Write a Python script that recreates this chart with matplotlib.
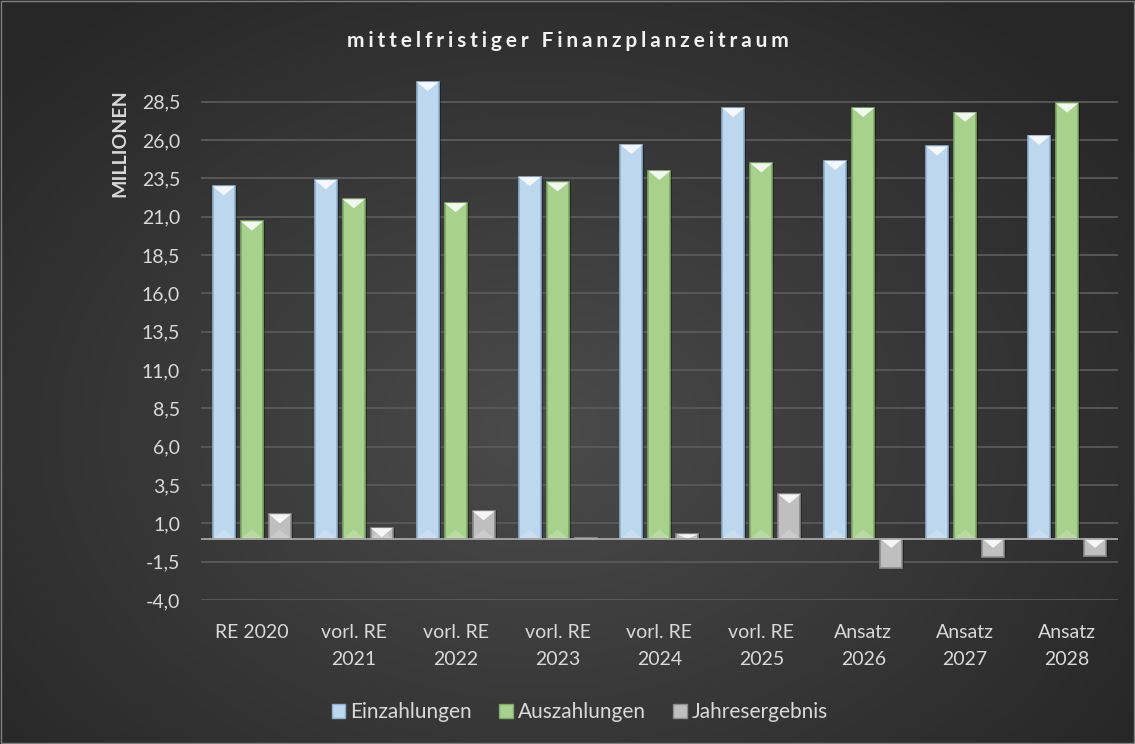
import numpy as np
import matplotlib.pyplot as plt
from matplotlib.patches import Patch, Rectangle

kategorien = ["RE 2020", "vorl. RE\n2021", "vorl. RE\n2022", "vorl. RE\n2023", "vorl. RE\n2024",
              "vorl. RE\n2025", "Ansatz\n2026", "Ansatz\n2027", "Ansatz\n2028"]
einzahlungen = [23.0, 23.4, 29.8, 23.6, 25.7, 28.1, 24.65, 25.6, 26.3]
auszahlungen = [20.7, 22.15, 21.9, 23.25, 24.0, 24.5, 28.1, 27.8, 28.4]
jahresergebnis = [1.6, 0.7, 1.8, 0.05, 0.3, 2.9, -1.9, -1.2, -1.15]
yticks = [-4.0, -1.5, 1.0, 3.5, 6.0, 8.5, 11.0, 13.5, 16.0, 18.5, 21.0, 23.5, 26.0, 28.5]

plt.rcParams['font.family'] = ['Lato', 'DejaVu Sans']
txt = "#d9d9d9"
fs = 14

fig = plt.figure(figsize=(11.35, 7.44), dpi=100)

# radial background
bg = fig.add_axes([0, 0, 1, 1], zorder=0)
yy, xx = np.mgrid[0:744, 0:1135]
r = np.sqrt(((xx - 540) / 720.0) ** 2 + ((yy - 430) / 540.0) ** 2)
r = np.clip(r, 0, 1)
c_in = np.array([0x4b, 0x4b, 0x4b]) / 255
c_out = np.array([0x27, 0x27, 0x27]) / 255
img = c_in[None, None, :] * (1 - r[..., None]) + c_out[None, None, :] * r[..., None]
bg.imshow(img, aspect="auto", extent=[0, 1, 0, 1], origin="upper")
bg.add_patch(Rectangle((0.001, 0.001), 0.998, 0.997, fill=False, ec="#7f7f7f", lw=1))
bg.set_xlim(0, 1)
bg.set_ylim(0, 1)
bg.axis("off")

ax = fig.add_axes([0.177, 0.1935, 0.808, 0.7005], zorder=1)
ax.patch.set_alpha(0)

x = np.arange(len(kategorien))
w = 0.216
off = 0.275
serien = [
    (einzahlungen, "Einzahlungen", "#bdd7ee", "#8fb0cf"),
    (auszahlungen, "Auszahlungen", "#a9d18e", "#7fa866"),
    (jahresergebnis, "Jahresergebnis", "#bfbfbf", "#8c8c8c"),
]
tri_h = 0.6
for i, (vals, name, col, dark) in enumerate(serien):
    xs = x + (i - 1) * off
    # shadow
    ax.bar(xs + 0.02, vals, w, color="black", alpha=0.35, zorder=2)
    ax.bar(xs, vals, w, color=col, edgecolor=dark, linewidth=1.2, zorder=3)
    for xi, v in zip(xs, vals):
        top = max(v, 0)
        h = min(tri_h, abs(v))
        ax.fill([xi - w / 2, xi + w / 2, xi], [top, top, top - h], color="white", alpha=0.85, lw=0, zorder=4)
        if v > 0:
            hb = min(tri_h, v)
            ax.fill([xi - w / 2, xi + w / 2, xi], [0, 0, hb], color="white", alpha=0.2, lw=0, zorder=4)

ax.set_xlim(-0.5, len(kategorien) - 0.5)
ax.set_ylim(-4, 30)
ax.set_yticks(yticks)
ax.set_yticklabels([f"{t:.1f}".replace(".", ",") for t in yticks])
ax.set_xticks(x)
ax.set_xticklabels(kategorien, linespacing=1.75)
ax.tick_params(axis="both", length=0, colors=txt, labelsize=fs)
ax.tick_params(axis="x", pad=17)
ax.tick_params(axis="y", pad=15)
ax.grid(axis="y", color="#5a5a5a", lw=1.3, zorder=1)
ax.set_axisbelow(True)
ax.axhline(0, color="#a6a6a6", lw=1.3, zorder=5)
for s in ax.spines.values():
    s.set_visible(False)

titel = "mittelfristiger Finanzplanzeitraum"
fig.text(0.5, 0.945, "\u2009\u200a".join(titel), ha="center", va="center",
         color="#f2f2f2", fontsize=15, fontweight="bold", zorder=3)
fig.text(0.106, 0.807, "MILLIONEN", rotation=90, ha="center", va="center",
         color=txt, fontsize=fs, fontweight="bold", zorder=3)

handles = [Patch(facecolor=c, edgecolor=d, label=n) for _, n, c, d in serien]
fig.legend(handles=handles, loc="center", bbox_to_anchor=(0.511, 0.043), ncol=3, frameon=False,
           fontsize=15, labelcolor=txt, handlelength=0.65, handleheight=0.65,
           handletextpad=0.25, columnspacing=1.3)

fig.savefig("out.png", dpi=100)
